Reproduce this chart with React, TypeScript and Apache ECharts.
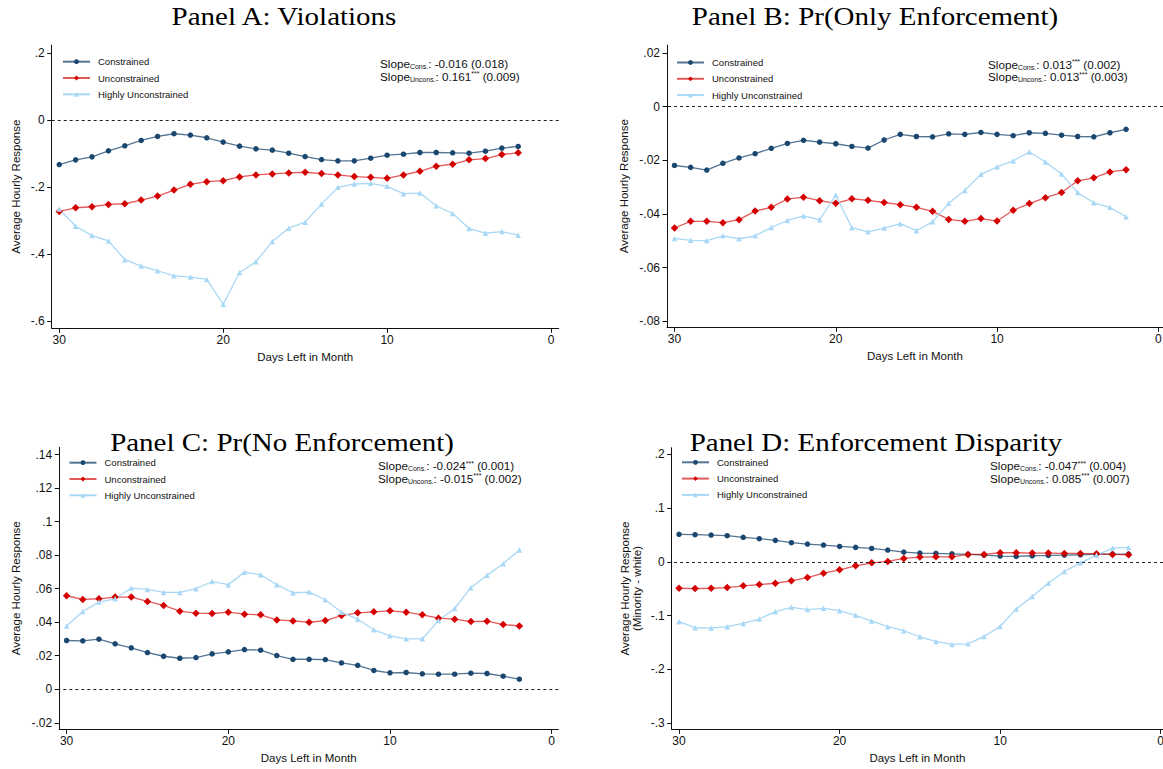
import React, { useEffect, useRef } from 'react';
import * as echarts from 'echarts';

const days = [30, 29, 28, 27, 26, 25, 24, 23, 22, 21, 20, 19, 18, 17, 16, 15, 14, 13, 12, 11, 10, 9, 8, 7, 6, 5, 4, 3, 2];
const seriesNames = ['Constrained', 'Unconstrained', 'Highly Unconstrained'];
const xTicks = [0, 10, 20, 30];

// Panel A: Violations
const violCons = [-0.133, -0.119, -0.110, -0.092, -0.077, -0.061, -0.049, -0.041, -0.045, -0.053, -0.066, -0.078, -0.086, -0.090, -0.099, -0.109, -0.118, -0.122, -0.122, -0.114, -0.105, -0.102, -0.097, -0.097, -0.098, -0.099, -0.093, -0.084, -0.079];
const violUncons = [-0.273, -0.262, -0.259, -0.252, -0.250, -0.239, -0.227, -0.209, -0.192, -0.184, -0.181, -0.170, -0.164, -0.161, -0.158, -0.156, -0.160, -0.164, -0.169, -0.171, -0.174, -0.164, -0.153, -0.138, -0.132, -0.119, -0.115, -0.103, -0.098];
const violHigh = [-0.266, -0.317, -0.345, -0.361, -0.417, -0.436, -0.450, -0.465, -0.469, -0.476, -0.550, -0.455, -0.423, -0.363, -0.323, -0.305, -0.251, -0.201, -0.191, -0.189, -0.198, -0.220, -0.218, -0.256, -0.279, -0.324, -0.338, -0.333, -0.344];
const violTicks = [-0.6, -0.4, -0.2, 0, 0.2];

// Panel B: Pr(Only Enforcement)
const onlyCons = [-0.0219, -0.0226, -0.0236, -0.0211, -0.0191, -0.0175, -0.0155, -0.0137, -0.0125, -0.0132, -0.0138, -0.0148, -0.0154, -0.0124, -0.0103, -0.0111, -0.0112, -0.0101, -0.0103, -0.0096, -0.0103, -0.0108, -0.0097, -0.0099, -0.0106, -0.0111, -0.0112, -0.0097, -0.0084];
const onlyUncons = [-0.0452, -0.0427, -0.0427, -0.0432, -0.0421, -0.0389, -0.0375, -0.0344, -0.0337, -0.0350, -0.0360, -0.0343, -0.0349, -0.0357, -0.0365, -0.0375, -0.0390, -0.0420, -0.0427, -0.0417, -0.0426, -0.0386, -0.0361, -0.0339, -0.0320, -0.0276, -0.0265, -0.0243, -0.0235];
const onlyHigh = [-0.0491, -0.0498, -0.0499, -0.0481, -0.0492, -0.0481, -0.0450, -0.0424, -0.0407, -0.0421, -0.0329, -0.0451, -0.0466, -0.0452, -0.0436, -0.0462, -0.0429, -0.0360, -0.0312, -0.0252, -0.0224, -0.0202, -0.0169, -0.0206, -0.0251, -0.0320, -0.0358, -0.0375, -0.0410];
const onlyTicks = [-0.08, -0.06, -0.04, -0.02, 0, 0.02];

// Panel C: Pr(No Enforcement)
const noCons = [0.0291, 0.0289, 0.0299, 0.0271, 0.0247, 0.0219, 0.0197, 0.0185, 0.0189, 0.0211, 0.0223, 0.0237, 0.0233, 0.0201, 0.0179, 0.0179, 0.0177, 0.0157, 0.0143, 0.0112, 0.0098, 0.0100, 0.0092, 0.0090, 0.0090, 0.0096, 0.0094, 0.0078, 0.0060];
const noUncons = [0.0558, 0.0536, 0.0540, 0.0550, 0.0550, 0.0524, 0.0500, 0.0466, 0.0454, 0.0452, 0.0460, 0.0448, 0.0444, 0.0414, 0.0408, 0.0400, 0.0410, 0.0440, 0.0456, 0.0462, 0.0468, 0.0460, 0.0444, 0.0424, 0.0418, 0.0404, 0.0406, 0.0386, 0.0378];
const noHigh = [0.0378, 0.0464, 0.0520, 0.0540, 0.0604, 0.0596, 0.0578, 0.0578, 0.0600, 0.0643, 0.0624, 0.0699, 0.0683, 0.0624, 0.0576, 0.0580, 0.0534, 0.0460, 0.0418, 0.0355, 0.0319, 0.0301, 0.0301, 0.0410, 0.0482, 0.0606, 0.0681, 0.0749, 0.0831];
const noTicks = [-0.02, 0, 0.02, 0.04, 0.06, 0.08, 0.1, 0.12, 0.14];

// Panel D: Enforcement Disparity
const dispCons = [0.0511, 0.0504, 0.0498, 0.0486, 0.0455, 0.0430, 0.0399, 0.0355, 0.0330, 0.0311, 0.0286, 0.0268, 0.0249, 0.0218, 0.0181, 0.0162, 0.0156, 0.0149, 0.0137, 0.0125, 0.0106, 0.0100, 0.0112, 0.0118, 0.0125, 0.0131, 0.0143, 0.0143, 0.0143];
const dispUncons = [-0.0492, -0.0498, -0.0492, -0.0479, -0.0448, -0.0423, -0.0399, -0.0355, -0.0293, -0.0212, -0.0149, -0.0075, -0.0019, 0.0006, 0.0062, 0.0087, 0.0093, 0.0093, 0.0137, 0.0137, 0.0168, 0.0168, 0.0162, 0.0162, 0.0156, 0.0156, 0.0149, 0.0137, 0.0131];
const dispHigh = [-0.1115, -0.1227, -0.1233, -0.1208, -0.1146, -0.1065, -0.0928, -0.0847, -0.0890, -0.0866, -0.0909, -0.0996, -0.1102, -0.1208, -0.1283, -0.1395, -0.1482, -0.1538, -0.1526, -0.1389, -0.1202, -0.0878, -0.0648, -0.0399, -0.0181, -0.0019, 0.0125, 0.0255, 0.0268];
const dispTicks = [-0.3, -0.2, -0.1, 0, 0.1, 0.2];

const titles = ['Panel A: Violations', 'Panel B: Pr(Only Enforcement)', 'Panel C: Pr(No Enforcement)', 'Panel D: Enforcement Disparity'];
const yTitles = ['Average Hourly Response', 'Average Hourly Response', 'Average Hourly Response', 'Average Hourly Response\n(Minority - white)'];
const slopeCons = [['-0.016', '', '(0.018)'], ['0.013', '***', '(0.002)'], ['-0.024', '***', '(0.001)'], ['-0.047', '***', '(0.004)']];
const slopeUncons = [['0.161', '***', '(0.009)'], ['0.013', '***', '(0.003)'], ['-0.015', '***', '(0.002)'], ['0.085', '***', '(0.007)']];

const panelData = [
  { cons: violCons, uncons: violUncons, high: violHigh, ticks: violTicks },
  { cons: onlyCons, uncons: onlyUncons, high: onlyHigh, ticks: onlyTicks },
  { cons: noCons, uncons: noUncons, high: noHigh, ticks: noTicks },
  { cons: dispCons, uncons: dispUncons, high: dispHigh, ticks: dispTicks },
];

// layout (pixels / axis extents)
const layout = [
  { left: 51.7, top: 45, width: 507, height: 283.3, xMin: -0.47, xMax: 30.46, yMin: -0.6218, yMax: 0.2239, titleX: 284, titleY: 17, legendX: 62, legendY: 55.7, slopeX: 380, slopeY: 57.5, nameGap: 30 },
  { left: 667, top: 45, width: 496, height: 282.3, xMin: -0.29, xMax: 30.465, yMin: -0.0822, yMax: 0.023, titleX: 875, titleY: 17, legendX: 676, legendY: 56.5, slopeX: 988, slopeY: 58, nameGap: 37 },
  { left: 59.2, top: 447.3, width: 499.1, height: 282, xMin: -0.408, xMax: 30.458, yMin: -0.0239, yMax: 0.1444, titleX: 282, titleY: 443, legendX: 68.5, legendY: 456.7, slopeX: 378, slopeY: 459.5, nameGap: 37 },
  { left: 671.7, top: 447.7, width: 491.3, height: 281.6, xMin: -0.143, xMax: 30.455, yMin: -0.3117, yMax: 0.2123, titleX: 876, titleY: 443, legendX: 681, legendY: 456.3, slopeX: 990, slopeY: 459.5, nameGap: 29 },
];

const SANS = '"Liberation Sans", Arial, Helvetica, sans-serif';
const SERIF = '"Liberation Serif", "DejaVu Serif", serif';
const NAVY = '#1a476f';
const RED = '#d40000';
const LIGHT = '#a8d8f5';

const fmt = (v: number) => {
  const s = parseFloat(Number(v).toFixed(4)).toString();
  return s.replace(/^(-?)0\./, '$1.');
};

export default function App() {
  const ref = useRef<HTMLDivElement>(null);
  useEffect(() => {
    if (!ref.current) return;
    const chart = echarts.init(ref.current, null, { renderer: 'svg' });
    const grid: any[] = [];
    const xAxis: any[] = [];
    const yAxis: any[] = [];
    const series: any[] = [];
    const legend: any[] = [];
    const graphic: any[] = [];

    panelData.forEach((p, i) => {
      const L = layout[i];
      grid.push({ left: L.left, top: L.top, width: L.width, height: L.height, containLabel: false, outerBoundsMode: 'none' });
      xAxis.push({
        type: 'value', gridIndex: i, inverse: true, min: L.xMin, max: L.xMax,
        name: 'Days Left in Month', nameLocation: 'middle', nameGap: 23,
        nameMoveOverlap: false,
        nameTextStyle: { fontFamily: SANS, fontSize: 11.5, color: '#111' },
        axisLine: { show: true, onZero: false, lineStyle: { color: '#111', width: 1 } },
        axisTick: { show: true, length: 4.5, customValues: xTicks, lineStyle: { color: '#111' } },
        axisLabel: { customValues: xTicks, fontFamily: SANS, fontSize: 12, color: '#111', margin: 6, formatter: (v: number) => String(Math.round(v)) },
        splitLine: { show: false },
      });
      yAxis.push({
        type: 'value', gridIndex: i, min: L.yMin, max: L.yMax,
        name: yTitles[i], nameLocation: 'middle', nameGap: L.nameGap, nameRotate: 90,
        nameMoveOverlap: false,
        nameTextStyle: { fontFamily: SANS, fontSize: 11.5, color: '#111', lineHeight: 12 },
        axisLine: { show: true, onZero: false, lineStyle: { color: '#111', width: 1 } },
        axisTick: { show: true, length: 4.5, customValues: p.ticks, lineStyle: { color: '#111' } },
        axisLabel: { customValues: p.ticks, fontFamily: SANS, fontSize: 12, color: '#111', margin: 7, formatter: fmt },
        splitLine: { show: false },
      });
      const mk = (name: string, vals: number[], color: string, symbol: string, size: number, lineOpacity: number, withZero: boolean) => {
        const s: any = {
          type: 'line', name, xAxisIndex: i, yAxisIndex: i,
          data: days.map((d, k) => [d, vals[k]]),
          symbol, symbolSize: size, showSymbol: true,
          itemStyle: { color },
          lineStyle: { color, width: 1.3, opacity: lineOpacity },
          emphasis: { disabled: true },
          z: 3,
        };
        if (withZero) {
          s.markLine = {
            silent: true, symbol: 'none', label: { show: false },
            lineStyle: { color: '#222', type: [3, 3], width: 1 },
            data: [{ yAxis: 0 }],
          };
        }
        return s;
      };
      series.push(mk(seriesNames[0], p.cons, NAVY, 'circle', 5.5, 0.75, true));
      series.push(mk(seriesNames[1], p.uncons, RED, 'diamond', 7.5, 0.65, false));
      series.push(mk(seriesNames[2], p.high, LIGHT, 'triangle', 5.5, 1, false));

      legend.push({
        left: L.legendX, top: L.legendY, orient: 'vertical', padding: 0,
        itemWidth: 27, itemHeight: 6, itemGap: 4.3,
        textStyle: { fontFamily: SANS, fontSize: 9.5, color: '#111', lineHeight: 12, padding: [0, 0, 0, 3] },
        data: seriesNames,
        selectedMode: false,
      });

      graphic.push({
        type: 'text', x: L.titleX, y: L.titleY, scaleX: 1.16,
        style: { text: titles[i], font: `25px ${SERIF}`, fill: '#000', align: 'center', verticalAlign: 'middle' },
      });

      const sc = slopeCons[i];
      const su = slopeUncons[i];
      const line1 = `{m|Slope}{sub|Cons.}{m|: ${sc[0]}}` + (sc[1] ? `{sup|${sc[1]}}` : '') + `{m| ${sc[2]}}`;
      const line2 = `{m|Slope}{sub|Uncons.}{m|: ${su[0]}}` + (su[1] ? `{sup|${su[1]}}` : '') + `{m| ${su[2]}}`;
      graphic.push({
        type: 'text', x: L.slopeX, y: L.slopeY,
        style: {
          text: line1 + '\n' + line2,
          fill: '#111',
          font: `11.5px ${SANS}`,
          rich: {
            m: { fontFamily: SANS, fontSize: 11.7, lineHeight: 12.5, verticalAlign: 'top', fill: '#111' },
            sub: { fontFamily: SANS, fontSize: 7, lineHeight: 7, verticalAlign: 'bottom', fill: '#111' },
            sup: { fontFamily: SANS, fontSize: 7, lineHeight: 7, verticalAlign: 'top', fill: '#111' },
          },
        },
      });
    });

    chart.setOption({
      animation: false,
      backgroundColor: '#fff',
      grid, xAxis, yAxis, series, legend, graphic,
    });
    return () => chart.dispose();
  }, []);
  return <div ref={ref} style={{ position: 'absolute', left: 0, top: 0, width: 1163, height: 769 }} />;
}
